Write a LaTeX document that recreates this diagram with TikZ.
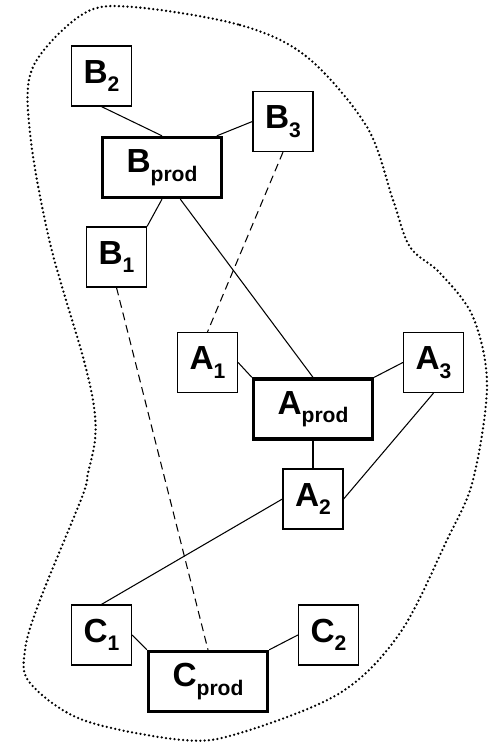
\documentclass[tikz,border=0pt]{standalone}
\usepackage{fontspec}
\setmainfont{Liberation Sans}
\usepackage{tikz}
\newcommand{\idx}[1]{\raisebox{-4.8pt}{\fontsize{12}{12}\selectfont #1}}

\begin{document}
\begin{tikzpicture}[
	item/.style={draw,line width=0.7pt,minimum width=1.2cm,minimum height=1.2cm,inner sep=0pt,
		font=\fontsize{19}{22}\selectfont\bfseries},
	prod/.style={item,line width=1.9pt,minimum width=2.38cm,minimum height=1.2cm},
	link/.style={line width=0.6pt},
	weak/.style={line width=0.6pt,dash pattern=on 4.5pt off 2.8pt},
	region/.style={line width=1.45pt,dash pattern=on 0pt off 2.45pt,line cap=round}]
	\useasboundingbox (0,0) rectangle (9.8,14.84);
	\draw[region] plot[smooth cycle,tension=0.55] coordinates{
		(2.66,14.70) (4.80,14.34) (6.14,13.70) (7.34,12.30) (7.86,10.84) (8.20,9.90)
		(8.80,9.38) (9.46,8.50) (9.74,7.14) (9.46,5.24) (8.94,4.04) (8.00,2.18)
		(6.80,0.98) (4.80,0.18) (3.66,0.04) (1.66,0.44) (0.60,1.18) (0.50,1.84)
		(0.80,2.84) (1.64,4.90) (1.76,5.38) (1.90,6.04) (1.88,6.70) (1.66,7.70)
		(1.00,9.98) (0.60,12.18) (0.66,13.50) (1.66,14.56)};
	\node[item] (B2) at (2.03,13.32) {B\idx{2}};
	\node[item] (B3) at (5.66,12.41) {B\idx{3}};
	\node[prod] (Bp) at (3.24,11.49) {B\idx{prod}};
	\node[item] (B1) at (2.33,9.70) {B\idx{1}};
	\node[item] (A1) at (4.15,7.59) {A\idx{1}};
	\node[item] (A3) at (8.67,7.59) {A\idx{3}};
	\node[prod] (Ap) at (6.26,6.66) {A\idx{prod}};
	\node[item] (A2) at (6.26,4.86) {A\idx{2}};
	\node[item] (C1) at (2.03,2.14) {C\idx{1}};
	\node[item] (C2) at (6.57,2.14) {C\idx{2}};
	\node[prod] (Cp) at (4.16,1.21) {C\idx{prod}};
	\draw[link] (B2.south) -- (Bp.north);
	\draw[link] (B3.west) -- (Bp.30);
	\draw[link] (Bp.south) -- (B1.north east);
	\draw[link] (Bp.-60) -- (Ap.north);
	\draw[link] (A1.east) -- (Ap.north west);
	\draw[link] (A3.west) -- (Ap.north east);
	\draw[link] (Ap.south) -- (A2.north);
	\draw[link] (A3.south) -- (A2.east);
	\draw[link] (A2.west) -- (C1.north);
	\draw[link] (C1.east) -- (Cp.north west);
	\draw[link] (C2.west) -- (Cp.north east);
	\draw[weak] (B3.south) -- (A1.north);
	\draw[weak] (B1.south) -- (Cp.north);
\end{tikzpicture}
\end{document}
